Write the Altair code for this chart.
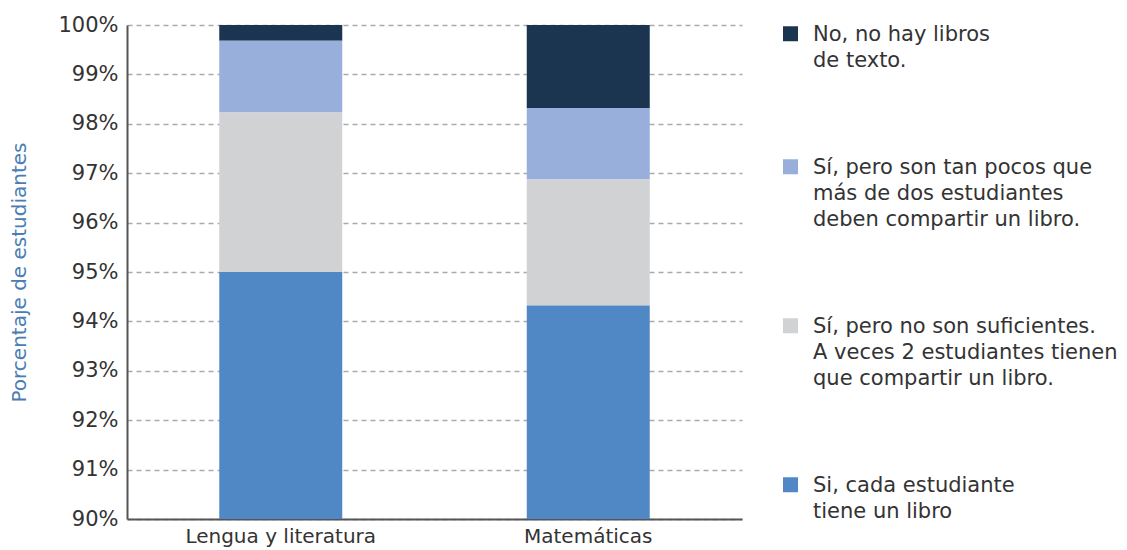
import altair as alt
import pandas as pd

subjects = ["Lengua y literatura", "Matemáticas"]
responses = [
    "No, no hay libros|de texto.",
    "Sí, pero son tan pocos que|más de dos estudiantes|deben compartir un libro.",
    "Sí, pero no son suficientes.|A veces 2 estudiantes tienen|que compartir un libro.",
    "Si, cada estudiante|tiene un libro",
]
colors = ["#1b3550", "#98afdb", "#d1d2d4", "#5088c6"]
lengua = [0.32, 1.45, 3.23, 95.0]
matematicas = [1.68, 1.45, 2.55, 94.32]

rows = []
for subj, vals in zip(subjects, [lengua, matematicas]):
    for i, (resp, v) in enumerate(zip(responses, vals)):
        rows.append({"subject": subj, "response": resp, "value": v,
                     "stack": len(responses) - 1 - i})
df = pd.DataFrame(rows)

FONT = "DejaVu Sans"

chart = alt.Chart(df).mark_bar(clip=True, strokeWidth=0).encode(
    x=alt.X("subject:N", sort=subjects,
            scale=alt.Scale(paddingInner=0.6, paddingOuter=0.3),
            axis=alt.Axis(title=None, labelAngle=0, labelFont=FONT, labelFontSize=20,
                          labelColor="#333333", labelPadding=7, labelLimit=400,
                          ticks=False, tickSize=0,
                          domainColor="#555555", domainWidth=2, grid=False)),
    y=alt.Y("value:Q", stack="zero",
            scale=alt.Scale(domain=[90, 100], zero=False, nice=False),
            axis=alt.Axis(title="Porcentaje de estudiantes", values=list(range(90, 101)),
                          labelExpr="datum.value + '%'", labelFont=FONT, labelFontSize=21,
                          labelColor="#333333", labelPadding=9, ticks=False, tickSize=0,
                          domainColor="#555555", domainWidth=2,
                          grid=True, gridDash=[5, 4], gridColor="#aaaaaa", gridWidth=1.5,
                          titleFont=FONT, titleFontSize=20, titleFontWeight="normal",
                          titleColor="#4a7db4", titlePadding=28)),
    color=alt.Color("response:N",
                    scale=alt.Scale(domain=responses, range=colors),
                    legend=alt.Legend(title=None, orient="none", legendX=653, legendY=5,
                                      padding=0,
                                      symbolType="M-1,-1.9H1V0.1H-1Z", symbolSize=225,
                                      symbolStrokeWidth=0, labelFont=FONT, labelFontSize=21,
                                      labelColor="#333333", labelBaseline="alphabetic",
                                      labelOffset=12, labelLimit=400, rowPadding=85,
                                      labelExpr="split(datum.label, '|')")),
    order=alt.Order("stack:Q", sort="ascending"),
).properties(
    width=615, height=494,
    autosize=alt.AutoSizeParams(type="none"),
    padding={"left": 127, "top": 25, "right": 385, "bottom": 31},
).configure(
    background="white",
    view=alt.ViewConfig(stroke=None),
    style={"guide-label": {"lineHeight": 26}},
)

chart.save("out.html", embed_options={"renderer": "svg", "actions": False})
